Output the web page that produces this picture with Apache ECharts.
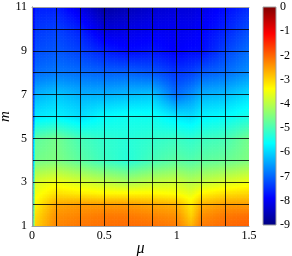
<!DOCTYPE html>
<html><head><meta charset="utf-8">
<script src="https://cdn.jsdelivr.net/npm/echarts@6/dist/echarts.min.js"></script>
<style>html,body{margin:0;padding:0;background:#fff}#c{width:292px;height:256px}</style>
</head><body><div id="c"></div>
<script>
// mu sample positions (columns) and m sample positions (rows)
const muValues = [0, 0.02, 1/6, 2/6, 3/6, 4/6, 5/6, 1.0, 1.1, 7/6, 8/6, 1.5];
const mValues = [1, 1.5, 2, 2.5, 3, 4, 5, 6, 7, 8, 9, 10, 11];
// one value row per m
const zM1   = [-7.8, -3.0, -2.3, -2.15, -2.1, -2.05, -2.1, -2.2, -2.7, -2.2, -2.05, -1.95];
const zM1_5 = [-7.9, -3.1, -2.4, -2.3, -2.2, -2.2, -2.3, -2.4, -3.0, -2.4, -2.2, -2.1];
const zM2   = [-8.0, -3.3, -2.6, -2.5, -2.5, -2.5, -2.6, -2.7, -3.2, -2.7, -2.5, -2.5];
const zM2_5 = [-8.1, -3.5, -3.1, -3.2, -3.3, -3.3, -3.3, -3.4, -3.6, -3.3, -3.1, -3.0];
const zM3   = [-8.2, -3.7, -3.5, -3.7, -3.9, -4.1, -3.9, -3.8, -4.0, -3.9, -3.7, -3.5];
const zM4   = [-8.3, -4.6, -4.5, -4.8, -5.1, -5.3, -5.0, -4.8, -4.9, -4.8, -4.7, -4.5];
const zM5   = [-8.4, -4.8, -4.6, -5.0, -5.2, -5.3, -5.2, -5.1, -5.2, -5.1, -5.0, -4.6];
const zM6   = [-8.5, -5.8, -5.7, -5.9, -5.6, -5.5, -5.5, -5.8, -5.9, -5.7, -5.6, -5.4];
const zM7   = [-8.5, -6.3, -6.1, -6.3, -6.3, -6.2, -6.1, -6.9, -6.6, -6.3, -6.2, -5.9];
const zM8   = [-8.5, -6.9, -6.8, -6.9, -7.0, -7.0, -7.1, -7.4, -7.3, -7.1, -6.9, -6.6];
const zM9   = [-8.6, -7.2, -7.1, -7.3, -7.6, -7.8, -7.7, -7.9, -7.8, -7.8, -7.3, -6.9];
const zM10  = [-8.6, -7.4, -7.3, -7.6, -8.2, -8.1, -8.0, -8.0, -8.0, -7.9, -7.6, -7.2];
const zM11  = [-8.6, -7.6, -7.6, -8.1, -8.7, -8.5, -8.3, -8.2, -8.2, -8.1, -7.8, -7.5];
const zRows = [zM1, zM1_5, zM2, zM2_5, zM3, zM4, zM5, zM6, zM7, zM8, zM9, zM10, zM11];
const colorbarTicks = [-9, -8, -7, -6, -5, -4, -3, -2, -1, 0];
const zMin = -9, zMax = 0;

function clamp(a){return Math.max(0, Math.min(1, a));}
function jet(v){
  const t = clamp((v - zMin) / (zMax - zMin));
  const r = clamp(1.5 - Math.abs(4*t - 3));
  const g = clamp(1.5 - Math.abs(4*t - 2));
  const b = clamp(1.5 - Math.abs(4*t - 1));
  return 'rgb(' + Math.round(r*255) + ',' + Math.round(g*255) + ',' + Math.round(b*255) + ')';
}

const cells = [];
for (let j = 0; j < mValues.length - 1; j++) {
  for (let i = 0; i < muValues.length - 1; i++) {
    cells.push([muValues[i], muValues[i+1], mValues[j], mValues[j+1],
      zRows[j][i], zRows[j][i+1], zRows[j+1][i], zRows[j+1][i+1]]);
  }
}

const font = 'Liberation Serif';
const chart = echarts.init(document.getElementById('c'), null, {renderer: 'canvas'});
chart.setOption({
  backgroundColor: '#fff',
  animation: false,
  grid: [
    {left: 32, right: 43, top: 7, bottom: 30, outerBoundsMode: 'none', containLabel: false},
    {left: 263, width: 13, top: 7, bottom: 31, outerBoundsMode: 'none', containLabel: false}
  ],
  xAxis: [
    {type: 'value', gridIndex: 0, min: 0, max: 1.5, interval: 1/6, z: 10,
     name: 'μ', nameLocation: 'middle', nameGap: 15, nameMoveOverlap: false,
     nameTextStyle: {fontFamily: font, fontStyle: 'italic', fontSize: 16, color: '#000'},
     axisLine: {show: true, lineStyle: {color: '#a0a0a0', width: 1}},
     axisTick: {show: false},
     axisLabel: {show: true, margin: 4, fontFamily: font, fontSize: 12, color: '#000',
       showMinLabel: true, showMaxLabel: true,
       formatter: v => (Math.abs(v*2 - Math.round(v*2)) < 1e-6) ? String(Math.round(v*2)/2) : ''},
     splitLine: {show: true, showMinLine: false, showMaxLine: false, lineStyle: {color: 'rgba(0,0,0,0.8)', width: 1}}},
    {type: 'value', gridIndex: 0, position: 'top', min: 0, max: 1.5, z: 10,
     axisLine: {show: true, lineStyle: {color: '#a0a0a0', width: 1}},
     axisTick: {show: false}, axisLabel: {show: false}, splitLine: {show: false}},
    {type: 'value', gridIndex: 1, min: 0, max: 1, show: false}
  ],
  yAxis: [
    {type: 'value', gridIndex: 0, min: 1, max: 11, interval: 1, z: 10,
     name: 'm', nameLocation: 'middle', nameGap: 19, nameMoveOverlap: false,
     nameTextStyle: {fontFamily: font, fontStyle: 'italic', fontSize: 15, color: '#000'},
     axisLine: {show: true, lineStyle: {color: '#a0a0a0', width: 1}},
     axisTick: {show: false},
     axisLabel: {show: true, margin: 5, fontFamily: font, fontSize: 12, color: '#000',
       showMinLabel: true, showMaxLabel: true,
       formatter: v => (Math.round(v) % 2 === 1) ? String(Math.round(v)) : ''},
     splitLine: {show: true, showMinLine: false, showMaxLine: false, lineStyle: {color: 'rgba(0,0,0,0.8)', width: 1}}},
    {type: 'value', gridIndex: 0, position: 'right', min: 1, max: 11, z: 10,
     axisLine: {show: true, lineStyle: {color: '#a0a0a0', width: 1}},
     axisTick: {show: false}, axisLabel: {show: false}, splitLine: {show: false}},
    {type: 'value', gridIndex: 1, position: 'right', min: zMin, max: zMax, interval: 1, z: 10,
     axisLine: {show: false}, axisTick: {show: false}, splitLine: {show: false},
     axisLabel: {show: true, margin: 4, fontFamily: font, fontSize: 12, color: '#000',
       showMinLabel: true, showMaxLabel: true,
       formatter: v => colorbarTicks.indexOf(Math.round(v)) >= 0 ? String(Math.round(v)) : ''}}
  ],
  series: [
    {type: 'custom', xAxisIndex: 0, yAxisIndex: 0, clip: true, z: 2,
     encode: {x: [0, 1], y: [2, 3]},
     data: cells,
     renderItem: function (params, api) {
       const x0 = api.value(0), x1 = api.value(1), y0 = api.value(2), y1 = api.value(3);
       const z00 = api.value(4), z10 = api.value(5), z01 = api.value(6), z11 = api.value(7);
       const pA = api.coord([x0, y0]), pB = api.coord([x1, y1]);
       const w = pB[0] - pA[0], h = pB[1] - pA[1];
       const nx = Math.max(1, Math.ceil(Math.abs(w) / 1.5));
       const ny = Math.max(1, Math.ceil(Math.abs(h) / 1.5));
       const children = [];
       for (let a = 0; a < nx; a++) {
         const u = (a + 0.5) / nx;
         for (let b = 0; b < ny; b++) {
           const v = (b + 0.5) / ny;
           const val = z00*(1-u)*(1-v) + z10*u*(1-v) + z01*(1-u)*v + z11*u*v;
           const rx = pA[0] + a * w / nx;
           const ry = pA[1] + (b + 1) * h / ny;
           children.push({type: 'rect', silent: true,
             shape: {x: rx, y: ry, width: w / nx + 0.6, height: -h / ny + 0.6},
             style: {fill: jet(val)}});
         }
       }
       return {type: 'group', children: children};
     }},
    {type: 'custom', xAxisIndex: 2, yAxisIndex: 2, z: 2,
     encode: {x: [0, 1], y: [2, 3]},
     data: [[0, 1, zMin, zMax]],
     renderItem: function (params, api) {
       const pA = api.coord([api.value(0), api.value(2)]);
       const pB = api.coord([api.value(1), api.value(3)]);
       const stops = [];
       for (let k = 0; k <= 8; k++) stops.push({offset: k/8, color: jet(zMin + (zMax - zMin) * k / 8)});
       return {type: 'rect',
         shape: {x: pA[0], y: pB[1], width: pB[0] - pA[0], height: pA[1] - pB[1]},
         style: {fill: {type: 'linear', x: 0, y: 1, x2: 0, y2: 0, colorStops: stops},
                 stroke: '#a0a0a0', lineWidth: 1}};
     }}
  ]
});
</script></body></html>
